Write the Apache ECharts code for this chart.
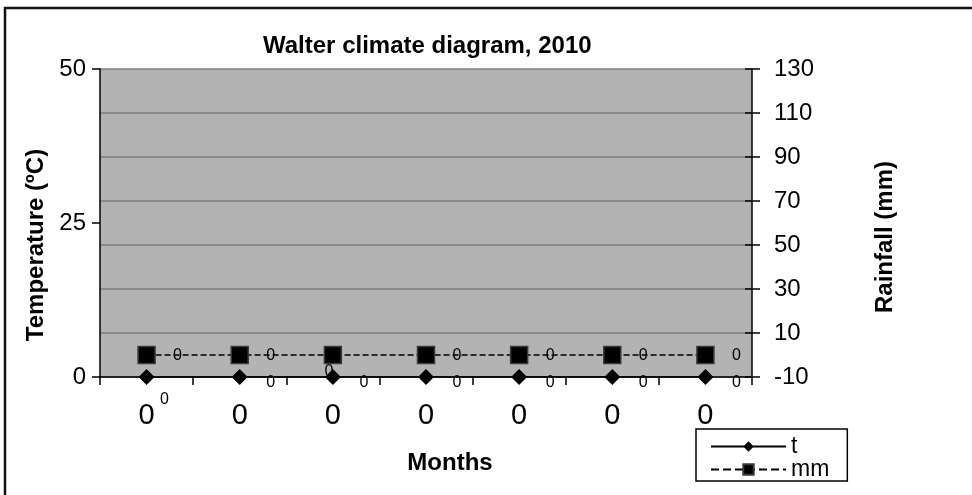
<!DOCTYPE html>
<html>
<head>
<meta charset="utf-8">
<title>Walter climate diagram, 2010</title>
<script src="https://cdn.jsdelivr.net/npm/echarts@6/dist/echarts.min.js"></script>
<style>
  html, body { margin: 0; padding: 0; background: #fff; }
  #chart { width: 972px; height: 495px; }
</style>
</head>
<body>
<div id="chart"></div>
<script>
var months = ["0", "0", "0", "0", "0", "0", "0"];
var temperature = [0, 0, 0, 0, 0, 0, 0];
var rainfall = [0, 0, 0, 0, 0, 0, 0];
var rainTicks = [-10, 10, 30, 50, 70, 90, 110, 130];

var font = "'Liberation Sans', Arial, sans-serif";

// label nudges, Excel put a couple of them somewhere else
var tOffset = { 0: [18, 23] };
var mmOffset = { 2: [-4, 17] };

function withLabels(values, def, special) {
  return values.map(function (v, i) {
    return { value: v, label: { offset: special[i] || def } };
  });
}

var chart = echarts.init(document.getElementById("chart"));
var option = {
  backgroundColor: "#fff",
  textStyle: { fontFamily: font },
  animation: false,
  title: {
    text: "Walter climate diagram, 2010",
    left: 263,
    top: 34,
    padding: 0,
    textStyle: { fontFamily: font, fontSize: 24, fontWeight: "bold", color: "#000" },
  },
  graphic: [
    {
      type: "rect",
      shape: { x: 5, y: 8, width: 1000, height: 600 },
      style: { fill: "none", stroke: "#111", lineWidth: 2.5 },
      silent: true,
    },
  ],
  legend: {
    orient: "vertical",
    left: 696,
    top: 429,
    padding: [6, 18, 0, 14],
    itemGap: 0,
    itemWidth: 75,
    itemHeight: 13,
    borderColor: "#000",
    borderWidth: 1.5,
    backgroundColor: "#fff",
    textStyle: { fontFamily: font, fontSize: 23, color: "#000" },
    data: ["t", "mm"],
  },
  grid: {
    left: 100,
    top: 69,
    width: 652,
    height: 308,
    show: true,
    backgroundColor: "#b3b3b3",
    borderWidth: 0,
  },
  xAxis: {
    type: "category",
    data: months,
    boundaryGap: true,
    name: "Months",
    nameLocation: "middle",
    nameGap: 74,
    nameTextStyle: { fontFamily: font, fontSize: 24, fontWeight: "bold", color: "#000", padding: [0, 0, 0, 48] },
    axisLine: { lineStyle: { color: "#000", width: 1.5 } },
    axisTick: { show: true, length: 8, lineStyle: { color: "#000", width: 1.5 } },
    axisLabel: { interval: 0, margin: 24, fontSize: 29, color: "#000", fontFamily: font },
    splitLine: { show: false },
  },
  yAxis: [
    {
      type: "value",
      position: "left",
      min: 0,
      max: 50,
      interval: 25,
      name: "Temperature (ºC)",
      nameLocation: "middle",
      nameRotate: 90,
      nameGap: 47,
      nameTextStyle: { fontFamily: font, fontSize: 24, fontWeight: "bold", color: "#000", padding: [0, 44, 0, 0] },
      axisLine: { show: true, lineStyle: { color: "#000", width: 1.5 } },
      axisTick: { show: true, length: 8, lineStyle: { color: "#000", width: 1.5 } },
      axisLabel: { margin: 14, fontSize: 24, color: "#000", fontFamily: font },
      splitLine: { show: false },
    },
    {
      type: "value",
      position: "right",
      min: -10,
      max: 130,
      name: "Rainfall (mm)",
      nameLocation: "middle",
      nameRotate: 90,
      nameGap: 121,
      nameTextStyle: { fontFamily: font, fontSize: 24, fontWeight: "bold", color: "#000", padding: [0, 28, 0, 0] },
      axisLine: { show: true, lineStyle: { color: "#000", width: 1.5 } },
      axisTick: { show: true, length: 8, customValues: rainTicks, lineStyle: { color: "#000", width: 1.5 } },
      axisLabel: { margin: 22, fontSize: 24, color: "#000", fontFamily: font, customValues: rainTicks },
      splitLine: { show: true, lineStyle: { color: "#7f7f7f", width: 1.5 } },
    },
    {
      // inner half of the cross ticks on the right
      type: "value",
      position: "right",
      min: -10,
      max: 130,
      axisLine: { show: false },
      axisTick: { show: true, inside: true, length: 7, customValues: rainTicks, lineStyle: { color: "#000", width: 1.5 } },
      axisLabel: { show: false },
      splitLine: { show: false },
    },
  ],
  series: [
    {
      name: "t",
      type: "line",
      yAxisIndex: 0,
      data: withLabels(temperature, [31, 6], tOffset),
      symbol: "diamond",
      symbolSize: 16,
      color: "#000",
      itemStyle: { color: "#000" },
      lineStyle: { color: "#000", width: 1.5, type: "solid" },
      label: { show: true, position: "inside", fontSize: 16, color: "#000", fontFamily: font },
      z: 3,
    },
    {
      name: "mm",
      type: "line",
      yAxisIndex: 1,
      data: withLabels(rainfall, [31, 1], mmOffset),
      symbol: "rect",
      symbolSize: 17,
      color: "#000",
      itemStyle: { color: "#000", borderColor: "#3a3a3a", borderWidth: 1.5 },
      lineStyle: { color: "#000", width: 1.5, type: "dashed" },
      label: { show: true, position: "inside", fontSize: 16, color: "#000", fontFamily: font },
      z: 2,
    },
  ],
};
chart.setOption(option);
</script>
</body>
</html>
